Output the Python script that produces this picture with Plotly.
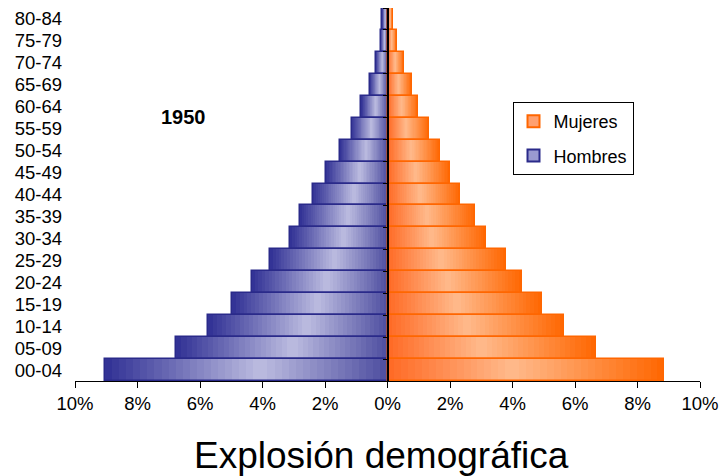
import plotly.graph_objects as go

ages = ["00-04", "05-09", "10-14", "15-19", "20-24", "25-29", "30-34", "35-39", "40-44",
        "45-49", "50-54", "55-59", "60-64", "65-69", "70-74", "75-79", "80-84"]
hombres = [9.04, 6.77, 5.73, 4.98, 4.35, 3.77, 3.13, 2.81, 2.40, 1.98, 1.53, 1.15, 0.84, 0.57, 0.38, 0.22, 0.17]
mujeres = [8.86, 6.68, 5.65, 4.94, 4.30, 3.79, 3.15, 2.80, 2.32, 2.00, 1.68, 1.33, 0.99, 0.77, 0.54, 0.30, 0.19]
tick_vals = [-10, -8, -6, -4, -2, 0, 2, 4, 6, 8, 10]
tick_text = [f"{abs(v)}%" for v in tick_vals]

FONT = "Liberation Sans, Arial, sans-serif"
N = 40
cat_range = [-0.5, len(ages) - 0.5]

# gradient stops (t = 0 at the centre line, 1 at the bar tip)
blue_stops = [(0.0, (78, 78, 160)), (0.45, (188, 188, 224)), (1.0, (48, 48, 148))]
orange_stops = [(0.0, (255, 105, 35)), (0.45, (255, 186, 140)), (1.0, (255, 102, 0))]


def grad(stops, t):
    for (t0, c0), (t1, c1) in zip(stops, stops[1:]):
        if t <= t1:
            f = (t - t0) / (t1 - t0)
            return "rgb(%d,%d,%d)" % tuple(round(a + (b - a) * f) for a, b in zip(c0, c1))
    return "rgb(%d,%d,%d)" % stops[-1][1]


fig = go.Figure()


def add_side(vals, sign, stops, edge):
    # longest first, shorter ones on top -> horizontal gradient without seams
    for k in range(N):
        frac = (N - k) / N
        fig.add_trace(go.Bar(
            y=ages, x=[sign * v * frac for v in vals], base=0, orientation="h",
            marker=dict(color=grad(stops, (N - k - 0.5) / N), line=dict(width=0)),
            showlegend=False, hoverinfo="skip"))
    fig.add_trace(go.Bar(
        y=ages, x=[sign * v for v in vals], base=0, orientation="h",
        marker=dict(color="rgba(0,0,0,0)", line=dict(color=edge, width=1.5)),
        showlegend=False, hoverinfo="skip"))


add_side(hombres, -1, blue_stops, "#2a2a8a")
add_side(mujeres, 1, orange_stops, "#ff6600")

# legend entries
fig.add_trace(go.Bar(y=[None], x=[None], orientation="h", name="Mujeres", legendgroup="m",
                     marker=dict(color="#ffa070", line=dict(color="#ff6600", width=2))))
fig.add_trace(go.Bar(y=[None], x=[None], orientation="h", name="Hombres", legendgroup="h",
                     marker=dict(color="#9a9ad0", line=dict(color="#2a2a8a", width=2))))

# helper trace for the centre category axis
fig.add_trace(go.Scatter(y=ages, x=[0] * len(ages), yaxis="y2", mode="markers",
                         marker=dict(opacity=0), showlegend=False, hoverinfo="skip"))

fig.update_layout(
    width=722, height=476,
    margin=dict(l=75, r=22, t=8, b=95),
    paper_bgcolor="white", plot_bgcolor="white",
    barmode="overlay", bargap=0,
    font=dict(family=FONT, size=18.5, color="black"),
    xaxis=dict(range=[-10, 10], tickvals=tick_vals, ticktext=tick_text, automargin=False,
               showgrid=False, zeroline=False, showline=True, linecolor="black", linewidth=1,
               ticks="outside", ticklen=6, tickcolor="black"),
    yaxis=dict(type="category", categoryarray=ages, range=cat_range, tickmode="array",
               tickvals=ages, ticktext=ages, showgrid=False, automargin=False,
               zeroline=False, showline=False, ticks="", ticklabelstandoff=12),
    yaxis2=dict(type="category", categoryarray=ages, range=cat_range, overlaying="y",
                anchor="free", position=0.5, showline=True, linecolor="black", linewidth=1.5,
                ticks="outside", ticklen=4, tickcolor="black", tickson="boundaries",
                showticklabels=False, showgrid=False, zeroline=False, automargin=False),
    legend=dict(x=0.7, y=0.748, xanchor="left", yanchor="top",
                bordercolor="black", borderwidth=1, bgcolor="white",
                font=dict(size=18), traceorder="grouped", itemsizing="constant",
                tracegroupgap=8),
    annotations=[
        dict(text="<b>1950</b>", x=0.173, y=0.708, xref="paper", yref="paper",
             xanchor="center", yanchor="middle", showarrow=False, font=dict(size=20)),
        dict(text="Explosión demográfica", x=0.49, y=-0.2, xref="paper", yref="paper",
             xanchor="center", showarrow=False, yanchor="middle", font=dict(size=37)),
    ],
)

fig.write_html("out.html", config={"displayModeBar": False},
               post_script="document.body.style.margin='0';")
